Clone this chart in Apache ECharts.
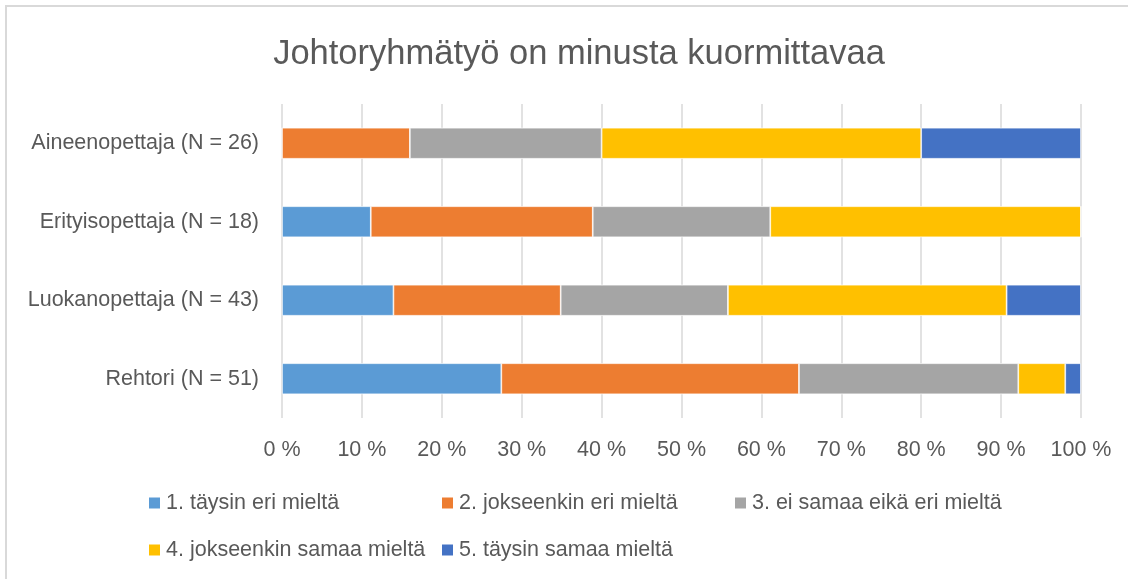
<!DOCTYPE html>
<html>
<head>
<meta charset="utf-8">
<script src="https://cdn.jsdelivr.net/npm/echarts@6/dist/echarts.min.js"></script>
<style>
  html, body { margin: 0; padding: 0; background: #ffffff; }
  #chart { width: 1128px; height: 579px; }
</style>
</head>
<body>
<div id="chart"></div>
<script>
// Survey: "Johtoryhmätyö on minusta kuormittavaa" – share of answers per respondent group (%)
const chartTitle = 'Johtoryhmätyö on minusta kuormittavaa';
const categories = ['Rehtori (N = 51)', 'Luokanopettaja (N = 43)', 'Erityisopettaja (N = 18)', 'Aineenopettaja (N = 26)'];
const seriesNames = ['1. täysin eri mieltä', '2. jokseenkin eri mieltä', '3. ei samaa eikä eri mieltä', '4. jokseenkin samaa mieltä', '5. täysin samaa mieltä'];
const seriesColors = ['#5B9BD5', '#ED7D31', '#A5A5A5', '#FFC000', '#4472C4'];

// values per answer option, in category order (Rehtori, Luokanopettaja, Erityisopettaja, Aineenopettaja)
const taysinEri      = [27.45, 13.95, 11.11, 0];
const jokseenkinEri  = [37.25, 20.93, 27.78, 16];
const eiSamaaEikaEri = [27.45, 20.93, 22.22, 24];
const jokseenkinSamaa = [5.88, 34.88, 38.89, 40];
const taysinSamaa    = [1.96, 9.30, 0, 20];
const seriesValues = [taysinEri, jokseenkinEri, eiSamaaEikaEri, jokseenkinSamaa, taysinSamaa];

const xTicks = { min: 0, max: 100, interval: 10 };

const FONT = 'Liberation Sans';
const TEXT = '#595959';

const chart = echarts.init(document.getElementById('chart'), null, { renderer: 'canvas' });

const legendCommon = {
  orient: 'horizontal',
  itemWidth: 13,
  itemHeight: 13,
  itemGap: 0,
  padding: 0,
  icon: 'rect',
  selectedMode: false,
  textStyle: { fontFamily: FONT, fontSize: 21.5, color: TEXT, width: 274, lineHeight: 24 }
};

chart.setOption({
  animation: false,
  backgroundColor: '#ffffff',
  title: {
    text: chartTitle,
    left: 574,
    top: 31,
    textAlign: 'center',
    textStyle: { fontFamily: FONT, fontSize: 34.5, fontWeight: 'normal', color: TEXT, lineHeight: 36 }
  },
  graphic: [{
    type: 'rect',
    shape: { x: 6, y: 6, width: 1200, height: 700 },
    style: { fill: 'none', stroke: '#d9d9d9', lineWidth: 2 },
    silent: true,
    z: 100
  }],
  legend: [
    Object.assign({ left: 147, top: 491, data: seriesNames.slice(0, 3) }, legendCommon),
    Object.assign({ left: 147, top: 538, data: seriesNames.slice(3) }, legendCommon)
  ],
  grid: { left: 282, right: 47, top: 104, bottom: 161, containLabel: false },
  xAxis: {
    type: 'value',
    min: xTicks.min,
    max: xTicks.max,
    interval: xTicks.interval,
    axisLine: { show: false },
    axisTick: { show: false },
    splitLine: { show: true, lineStyle: { color: '#d9d9d9', width: 1.5 } },
    axisLabel: {
      formatter: '{value} %',
      fontFamily: FONT, fontSize: 21.5, color: TEXT, margin: 21, lineHeight: 22
    }
  },
  yAxis: {
    type: 'category',
    data: categories,
    axisLine: { show: false },
    axisTick: { show: false },
    splitLine: { show: false },
    axisLabel: { fontFamily: FONT, fontSize: 21.5, color: TEXT, margin: 23 }
  },
  series: seriesNames.map((name, i) => ({
    name: name,
    type: 'bar',
    stack: 'total',
    barCategoryGap: '60.5%',
    data: seriesValues[i],
    itemStyle: { color: seriesColors[i], borderColor: '#ffffff', borderWidth: 0.7 },
    emphasis: { disabled: true }
  }))
});
</script>
</body>
</html>
